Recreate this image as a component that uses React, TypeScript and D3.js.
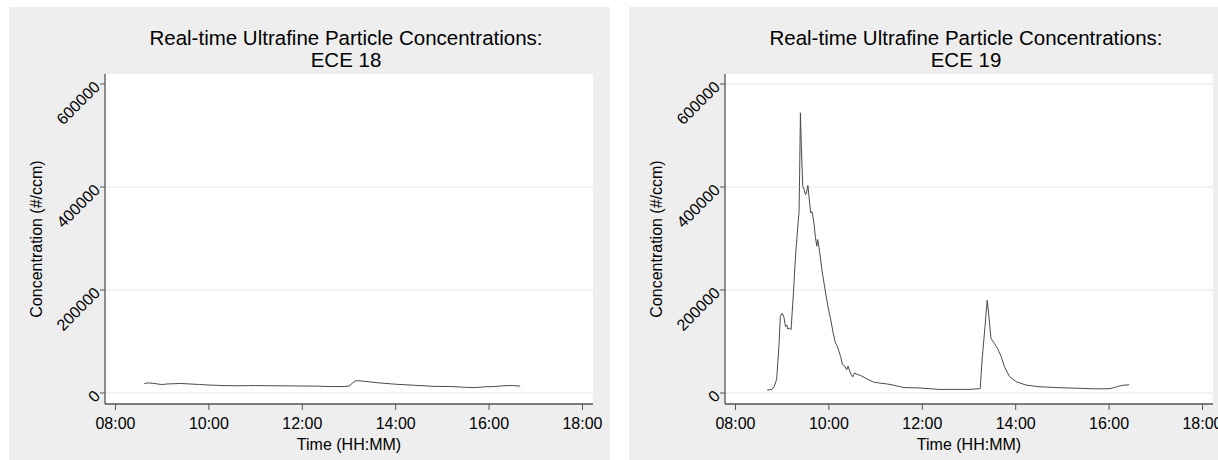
import React from "react";
import * as d3 from "d3";

// ---- data ---------------------------------------------------------------
const panelTitles = ["ECE 18", "ECE 19"];
const titlePrefix = "Real-time Ultrafine Particle Concentrations:";
const xAxisTitle = "Time (HH:MM)";
const yAxisTitle = "Concentration (#/ccm)";

const xTickLabels = ["08:00", "10:00", "12:00", "14:00", "16:00", "18:00"];
const yTickValues = [0, 200000, 400000, 600000];

const ece18Times = [
  "08:37:00", "08:42:00", "08:48:00", "08:54:00", "09:00:00", "09:06:00",
  "09:15:00", "09:24:00", "09:36:00", "09:48:00", "10:00:00", "10:18:00",
  "10:36:00", "11:00:00", "11:18:00", "11:36:00", "12:00:00", "12:18:00",
  "12:36:00", "12:54:00", "13:00:00", "13:05:00", "13:09:00", "13:18:00",
  "13:36:00", "14:00:00", "14:24:00", "14:48:00", "15:12:00", "15:30:00",
  "15:42:00", "15:54:00", "16:06:00", "16:18:00", "16:30:00", "16:40:00",
];
const ece18Values = [
  18500, 19500, 19000, 17500, 16500, 17500,
  18000, 18500, 17500, 16500, 15500, 14500,
  14000, 14500, 14000, 14000, 13500, 13500,
  12500, 12500, 13500, 20000, 24000, 23000,
  20000, 17000, 15000, 13000, 12500, 11000,
  10500, 12000, 12500, 14000, 14500, 13500,
];

const ece19Times = [
  "08:40:48", "08:46:48", "08:49:48", "08:52:48", "08:55:48", "08:57:36",
  "09:00:00", "09:02:24", "09:04:12", "09:06:00", "09:07:12", "09:09:00",
  "09:11:24", "09:14:24", "09:17:24", "09:20:24", "09:21:36", "09:22:12",
  "09:23:24", "09:24:36", "09:26:24", "09:27:36", "09:30:00", "09:31:12",
  "09:33:00", "09:34:12", "09:36:36", "09:38:24", "09:40:48", "09:42:36",
  "09:44:24", "09:45:36", "09:47:24", "09:51:36", "09:55:48", "09:58:48",
  "10:02:24", "10:05:24", "10:08:24", "10:10:48", "10:15:00", "10:17:24",
  "10:20:24", "10:22:48", "10:24:36", "10:27:36", "10:30:36", "10:33:00",
  "10:36:36", "10:40:48", "10:49:12", "10:57:36", "11:06:36", "11:15:00",
  "11:23:24", "11:36:36", "11:57:36", "12:21:00", "13:00:00", "13:14:24",
  "13:16:48", "13:19:48", "13:23:24", "13:25:12", "13:28:12", "13:32:24",
  "13:36:36", "13:41:24", "13:45:36", "13:52:12", "14:00:36", "14:13:12",
  "14:30:00", "14:56:24", "15:22:12", "15:42:00", "16:01:12", "16:10:48",
  "16:18:00", "16:25:48",
];
const ece19Values = [
  5500, 7000, 13000, 26000, 91000, 149000,
  155000, 146000, 129000, 132000, 124000, 126000,
  123000, 194000, 272000, 330000, 350000, 401000,
  544000, 479000, 401000, 398000, 385000, 388000,
  403000, 385000, 350000, 352000, 330000, 304000,
  285000, 298000, 282000, 233000, 194000, 168000,
  142000, 117000, 97000, 91000, 71000, 55000,
  52000, 45000, 52000, 39000, 31000, 39000,
  36000, 34000, 27000, 21000, 19000, 17500,
  15000, 10500, 9700, 7000, 7000, 8400,
  64000, 116000, 180000, 155000, 106000, 96500,
  86800, 70500, 51000, 31700, 22000, 15500,
  12200, 10300, 9100, 8000, 8400, 12500,
  15000, 16000,
];

// ---- layout -------------------------------------------------------------
const WIDTH = 1218;
const HEIGHT = 460;
const PANEL_STEP = 620;
const BG = "#eeeeee";
const FONT = "Liberation Sans, Arial, Helvetica, sans-serif";

const plot = { left: 105, right: 593, top: 74, bottom: 404 };

const parseTime = d3.timeParse("%H:%M:%S");
const parseTick = d3.timeParse("%H:%M");
const fmtTick = d3.timeFormat("%H:%M");

const xScale = d3
  .scaleTime()
  .domain([parseTick("08:00") as Date, parseTick("18:00") as Date])
  .range([115.5, 582.5]);
const yScale = d3.scaleLinear().domain([0, 600000]).range([393, 84]);

type Pt = { t: Date; v: number };
const toPoints = (times: string[], values: number[]): Pt[] =>
  times.map((s, i) => ({ t: parseTime(s) as Date, v: values[i] }));

const series = [toPoints(ece18Times, ece18Values), toPoints(ece19Times, ece19Values)];
// the top gridline is only drawn on the second panel
const showTopGrid = [false, true];

const line = d3
  .line<Pt>()
  .x((d) => xScale(d.t))
  .y((d) => yScale(d.v));

function Panel({ idx }: { idx: number }) {
  const cx = (plot.left + plot.right) / 2;
  const grid = yTickValues.filter((v) => v < 600000 || showTopGrid[idx]);
  return (
    <g transform={`translate(${idx * PANEL_STEP},0)`}>
      <rect x={9} y={7} width={601} height={HEIGHT} fill={BG} />
      <rect
        x={plot.left}
        y={plot.top}
        width={plot.right - plot.left}
        height={plot.bottom - plot.top}
        fill="#ffffff"
      />
      {grid.map((v) => (
        <line
          key={v}
          x1={plot.left}
          x2={plot.right}
          y1={yScale(v)}
          y2={yScale(v)}
          stroke="#e6e6e6"
          strokeWidth={1}
        />
      ))}
      <path
        d={line(series[idx]) || ""}
        fill="none"
        stroke="#4a4a4a"
        strokeWidth={1}
        strokeLinejoin="round"
      />
      {/* axes */}
      <line x1={plot.left} x2={plot.left} y1={plot.top} y2={plot.bottom} stroke="#555" strokeWidth={1.3} />
      <line x1={plot.left} x2={plot.right} y1={plot.bottom} y2={plot.bottom} stroke="#555" strokeWidth={1.3} />
      {yTickValues.map((v) => (
        <g key={v}>
          <line x1={plot.left - 5} x2={plot.left} y1={yScale(v)} y2={yScale(v)} stroke="#555" strokeWidth={1} />
          <text
            transform={`translate(${plot.left - 7},${yScale(v) + 1}) rotate(-45)`}
            textAnchor="end"
            dominantBaseline="middle"
            fontSize={16}
            fontFamily={FONT}
            fill="#000"
          >
            {v}
          </text>
        </g>
      ))}
      {xTickLabels.map((s) => {
        const x = xScale(parseTick(s) as Date);
        return (
          <g key={s}>
            <line x1={x} x2={x} y1={plot.bottom} y2={plot.bottom + 6} stroke="#555" strokeWidth={1} />
            <text x={x} y={429} textAnchor="middle" fontSize={16} fontFamily={FONT} fill="#000">
              {fmtTick(parseTick(s) as Date)}
            </text>
          </g>
        );
      })}
      <text x={cx} y={450} textAnchor="middle" fontSize={16} fontFamily={FONT} fill="#000">
        {xAxisTitle}
      </text>
      <text
        transform={`translate(42,239) rotate(-90)`}
        textAnchor="middle"
        fontSize={16}
        fontFamily={FONT}
        fill="#000"
      >
        {yAxisTitle}
      </text>
      <text x={cx - 3} y={45} textAnchor="middle" fontSize={20.5} fontFamily={FONT} fill="#000">
        {titlePrefix}
      </text>
      <text x={cx - 3} y={67} textAnchor="middle" fontSize={20.5} fontFamily={FONT} fill="#000">
        {panelTitles[idx]}
      </text>
    </g>
  );
}

export default function App() {
  return (
    <svg
      width={WIDTH}
      height={HEIGHT}
      viewBox={`0 0 ${WIDTH} ${HEIGHT}`}
      style={{ position: "absolute", left: 0, top: 0, background: "#fff" }}
    >
      <rect width={WIDTH} height={HEIGHT} fill="#fff" />
      {panelTitles.map((_, i) => (
        <Panel key={i} idx={i} />
      ))}
    </svg>
  );
}
